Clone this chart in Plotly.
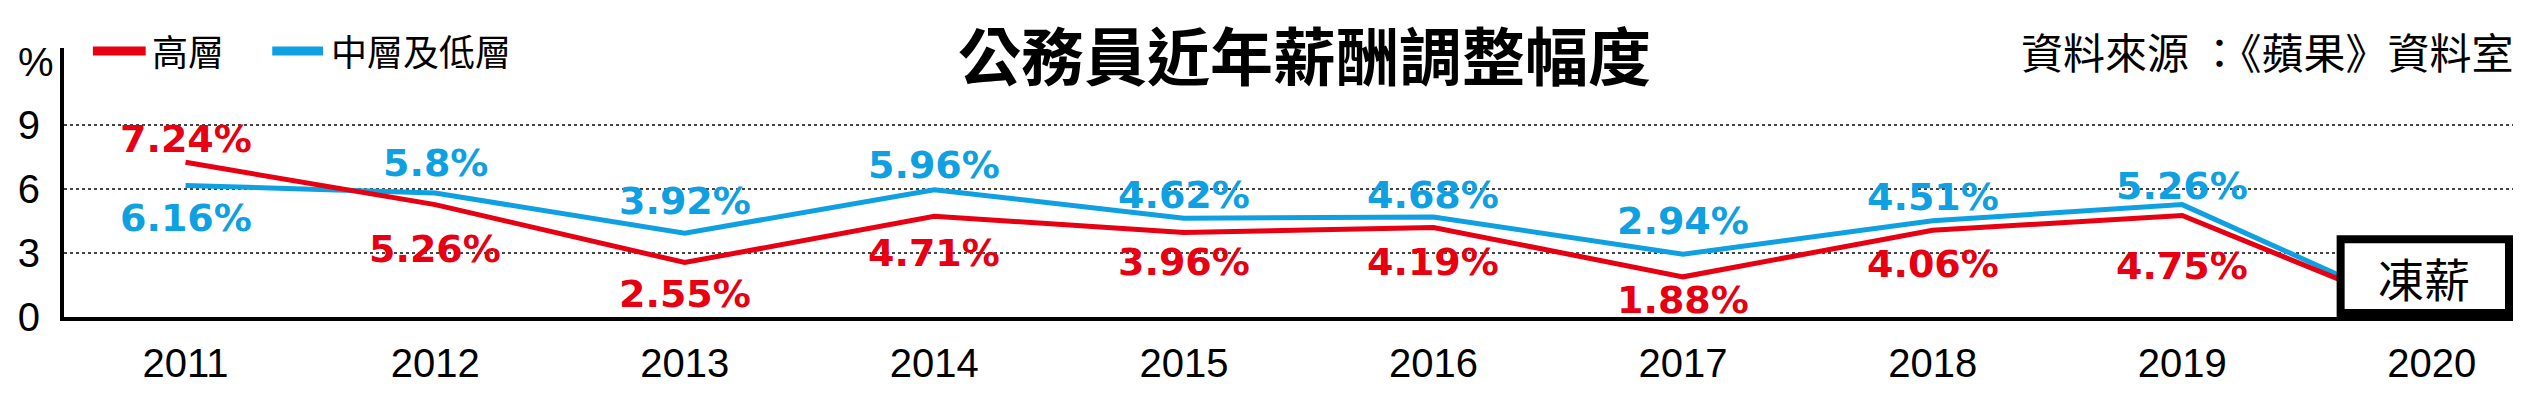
import plotly.graph_objects as go

# ---- data ----
years = ["2011", "2012", "2013", "2014", "2015", "2016", "2017", "2018", "2019", "2020"]
senior = [7.24, 5.26, 2.55, 4.71, 3.96, 4.19, 1.88, 4.06, 4.75, 0]          # 高層
mid_low = [6.16, 5.8, 3.92, 5.96, 4.62, 4.68, 2.94, 4.51, 5.26, 0]          # 中層及低層
y_ticks = [0, 3, 6, 9]

# label pixel offsets (positive = up)
senior_label_shift = [23, -44, -31, -37, -30, -35, -23, -34, -50]
midlow_label_shift = [-33, 30, 32, 25, 23, 22, 33, 24, 19]

RED = "#E60012"
BLUE = "#0FA0E1"

# page has an 8px body margin; build figure so the plot lands at the reference pixels
OFF = 8
PAGE_W, PAGE_H = 2523, 395
W, H = PAGE_W - OFF, PAGE_H - OFF
PL, PR, PT, PB = 55, 2513, 48, 325          # plot area in page pixels
ML, MR, MT, MB = PL - OFF, W - (PR - OFF), PT - OFF, H - (PB - OFF)
PX_PER_CAT = 250.5
FIRST_X = 177
plot_h = PB - PT
PX_PER_UNIT = 22.0

x_idx = list(range(len(years)))
x_left = (PL - FIRST_X) / PX_PER_CAT
x_right = (PR - FIRST_X) / PX_PER_CAT
y_top = plot_h / PX_PER_UNIT

fig = go.Figure()
fig.add_trace(go.Scatter(x=x_idx, y=mid_low, mode="lines", name="中層及低層",
                         line=dict(color=BLUE, width=5), showlegend=False))
fig.add_trace(go.Scatter(x=x_idx, y=senior, mode="lines", name="高層",
                         line=dict(color=RED, width=5), showlegend=False))

lab_font = "DejaVu Sans"
annotations = []
for i in range(9):
    annotations.append(dict(x=i, y=senior[i], xref="x", yref="y", text=f"{senior[i]:g}%",
                            showarrow=False, yshift=senior_label_shift[i], xanchor="center", yanchor="middle",
                            font=dict(family=lab_font, size=38, color=RED, weight="bold")))
    annotations.append(dict(x=i, y=mid_low[i], xref="x", yref="y", text=f"{mid_low[i]:g}%",
                            showarrow=False, yshift=midlow_label_shift[i], xanchor="center", yanchor="middle",
                            font=dict(family=lab_font, size=38, color=BLUE, weight="bold")))

def px(xp):
    return (xp - PL) / (PR - PL)

def py(yp):
    return (PB - yp) / plot_h

cjk = "Noto Sans CJK TC"
annotations.append(dict(x=px(1300), y=py(53), xref="paper", yref="paper", text="公務員近年薪酬調整幅度",
                        showarrow=False, xanchor="center", yanchor="middle",
                        font=dict(family=cjk, size=63, color="black", weight="bold")))
annotations.append(dict(x=px(2515), y=py(51), xref="paper", yref="paper", text="資料來源 ：《蘋果》資料室",
                        showarrow=False, xanchor="right", yanchor="middle",
                        font=dict(family=cjk, size=42, color="black")))
annotations.append(dict(x=px(27), y=py(62), xref="paper", yref="paper", text="%",
                        showarrow=False, xanchor="center", yanchor="middle",
                        font=dict(family="Liberation Sans", size=40, color="black")))
annotations.append(dict(x=px(141), y=py(50), xref="paper", yref="paper", text="高層",
                        showarrow=False, xanchor="left", yanchor="middle",
                        font=dict(family=cjk, size=36, color="black")))
annotations.append(dict(x=px(321), y=py(50), xref="paper", yref="paper", text="中層及低層",
                        showarrow=False, xanchor="left", yanchor="middle",
                        font=dict(family=cjk, size=36, color="black")))
annotations.append(dict(x=(2424 - FIRST_X) / PX_PER_CAT, y=(PB - 284) / PX_PER_UNIT, xref="x", yref="y",
                        text="凍薪", showarrow=False, xanchor="center", yanchor="middle",
                        font=dict(family=cjk, size=46, color="black")))

shapes = [
    dict(type="line", xref="paper", yref="paper", x0=px(84), x1=px(137), y0=py(51), y1=py(51),
         line=dict(color=RED, width=9)),
    dict(type="line", xref="paper", yref="paper", x0=px(264), x1=px(315), y0=py(51), y1=py(51),
         line=dict(color=BLUE, width=9)),
    dict(type="rect", xref="x", yref="y", x0=(2340 - FIRST_X) / PX_PER_CAT, x1=(2509 - FIRST_X) / PX_PER_CAT,
         y0=(PB - 321) / PX_PER_UNIT, y1=(PB - 245) / PX_PER_UNIT,
         line=dict(color="black", width=8), fillcolor="white", layer="above"),
]

fig.update_layout(
    width=W, height=H,
    margin=dict(l=ML, r=MR, t=MT, b=MB, pad=0),
    plot_bgcolor="white", paper_bgcolor="white",
    annotations=annotations, shapes=shapes,
    showlegend=False,
)
fig.update_xaxes(range=[x_left, x_right], tickvals=x_idx, ticktext=years,
                 showgrid=False, zeroline=False, showline=True, linecolor="black", linewidth=4,
                 ticks="", ticklabelstandoff=8,
                 tickfont=dict(family="Liberation Sans", size=40, color="black"))
fig.update_yaxes(range=[0, y_top], tickvals=y_ticks, showgrid=True, gridcolor="#444444",
                 griddash="dot", gridwidth=1.5, zeroline=False, showline=True, linecolor="black",
                 linewidth=4, ticks="", ticklabelstandoff=12,
                 tickfont=dict(family="Liberation Sans", size=40, color="black"))

fig.write_html("out.html")
